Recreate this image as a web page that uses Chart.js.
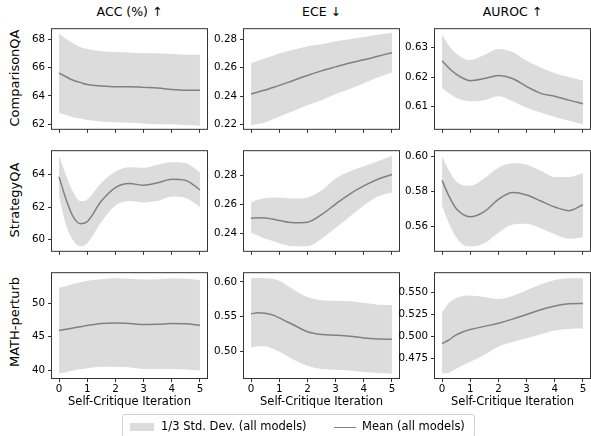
<!DOCTYPE html>
<html>
<head>
<meta charset="utf-8">
<script src="https://cdn.jsdelivr.net/npm/chart.js@4.4.0/dist/chart.umd.min.js"></script>
<style>
    body { margin: 0; background: #fff; font-family: "DejaVu Sans", sans-serif; color: #000; }
    #fig { position: relative; width: 591px; height: 436px; overflow: hidden; }
    canvas { position: absolute; }
    .col-title { position: absolute; top: 4px; font-size: 12.5px; transform: translateX(-50%); white-space: nowrap; }
    .row-label { position: absolute; left: 14px; font-size: 13px; white-space: nowrap; transform: translate(-50%, -50%) rotate(-90deg); }
    #legend { position: absolute; left: 122px; top: 414px; width: 353px; height: 24px; border: 1px solid #d0d0d0; border-radius: 3px; box-sizing: border-box; font-size: 11.5px; }
    #legend .patch { position: absolute; left: 7px; top: 8px; width: 24px; height: 8px; background: rgb(220,220,220); }
    #legend .line { position: absolute; left: 211px; top: 11.5px; width: 22px; height: 1.5px; background: rgb(128,128,128); }
    #legend .txt { position: absolute; top: 4px; white-space: nowrap; }
</style>
</head>
<body>
<div id="fig">
    <div class="col-title" style="left:129.5px">ACC (%) ↑</div>
    <div class="col-title" style="left:321.5px">ECE ↓</div>
    <div class="col-title" style="left:512.5px">AUROC ↑</div>
    <div class="row-label" style="top:78px">ComparisonQA</div>
    <div class="row-label" style="top:200px">StrategyQA</div>
    <div class="row-label" style="top:322px">MATH-perturb</div>

    <canvas id="p00"></canvas><canvas id="p01"></canvas><canvas id="p02"></canvas>
    <canvas id="p10"></canvas><canvas id="p11"></canvas><canvas id="p12"></canvas>
    <canvas id="p20"></canvas><canvas id="p21"></canvas><canvas id="p22"></canvas>

    <div id="legend">
        <div class="patch"></div><div class="txt" style="left:38px">1/3 Std. Dev. (all models)</div>
        <div class="line"></div><div class="txt" style="left:239px">Mean (all models)</div>
    </div>
</div>

<script>
// x positions (self-critique iteration) where values were read
var iterations = [0, 0.25, 0.5, 0.75, 1, 1.5, 2, 2.5, 3, 3.5, 4, 4.5, 5];
var xTicks = [0, 1, 2, 3, 4, 5];

// ComparisonQA
var cmpAccMean = [65.6, 65.35, 65.1, 64.95, 64.8, 64.7, 64.65, 64.65, 64.6, 64.55, 64.45, 64.4, 64.4];
var cmpAccHigh = [68.4, 68.0, 67.7, 67.45, 67.3, 67.15, 67.1, 67.05, 67.0, 67.0, 66.95, 66.9, 66.9];
var cmpAccLow  = [62.8, 62.65, 62.5, 62.4, 62.3, 62.2, 62.15, 62.1, 62.05, 62.0, 62.0, 61.95, 61.9];
var cmpAccTicks = ['62', '64', '66', '68'];

var cmpEceMean = [0.2415, 0.2429, 0.2443, 0.2459, 0.2475, 0.251, 0.2545, 0.2577, 0.2605, 0.2632, 0.2655, 0.268, 0.2705];
var cmpEceHigh = [0.263, 0.2648, 0.2665, 0.2682, 0.27, 0.2725, 0.275, 0.2765, 0.2785, 0.28, 0.2815, 0.283, 0.2845];
var cmpEceLow  = [0.2195, 0.2205, 0.2215, 0.2235, 0.2255, 0.2295, 0.2335, 0.237, 0.2415, 0.245, 0.249, 0.253, 0.2565];
var cmpEceTicks = ['0.22', '0.24', '0.26', '0.28'];

var cmpAurocMean = [0.6255, 0.623, 0.621, 0.6196, 0.6188, 0.6195, 0.6205, 0.6195, 0.6168, 0.6145, 0.6135, 0.6122, 0.611];
var cmpAurocHigh = [0.6345, 0.6305, 0.628, 0.6264, 0.6258, 0.6275, 0.6295, 0.6285, 0.6255, 0.6232, 0.6213, 0.62, 0.6188];
var cmpAurocLow  = [0.6162, 0.6145, 0.613, 0.6122, 0.6118, 0.6122, 0.6135, 0.6118, 0.6096, 0.608, 0.6065, 0.6052, 0.604];
var cmpAurocTicks = ['0.61', '0.62', '0.63'];

// StrategyQA
var stratAccMean = [63.87, 62.47, 61.4, 60.97, 61.1, 62.37, 63.21, 63.46, 63.35, 63.5, 63.72, 63.65, 63.07];
var stratAccHigh = [65.18, 63.96, 62.93, 62.37, 62.47, 63.5, 64.2, 64.47, 64.43, 64.62, 64.77, 64.71, 64.15];
var stratAccLow  = [62.65, 60.88, 59.94, 59.57, 59.76, 61.07, 62.09, 62.37, 62.28, 62.37, 62.65, 62.56, 62.0];
var stratAccTicks = ['60', '62', '64'];

var stratEceMean = [0.2506, 0.251, 0.2508, 0.25, 0.249, 0.2475, 0.2479, 0.2531, 0.2604, 0.2673, 0.2729, 0.2775, 0.2808];
var stratEceHigh = [0.2615, 0.2635, 0.2646, 0.265, 0.265, 0.2642, 0.265, 0.2698, 0.2781, 0.2829, 0.2865, 0.29, 0.2938];
var stratEceLow  = [0.2406, 0.2385, 0.2365, 0.235, 0.2333, 0.2313, 0.2313, 0.2365, 0.2438, 0.2517, 0.2594, 0.2656, 0.2683];
var stratEceTicks = ['0.24', '0.26', '0.28'];

var stratAurocMean = [0.5863, 0.5772, 0.5703, 0.5669, 0.5657, 0.5686, 0.5755, 0.5794, 0.578, 0.5746, 0.5712, 0.5691, 0.5725];
var stratAurocHigh = [0.6, 0.5918, 0.5858, 0.5835, 0.5832, 0.5875, 0.5935, 0.596, 0.5952, 0.5918, 0.5883, 0.5883, 0.5904];
var stratAurocLow  = [0.572, 0.5617, 0.554, 0.5497, 0.5488, 0.5506, 0.5566, 0.5612, 0.5617, 0.5591, 0.5557, 0.5531, 0.554];
var stratAurocTicks = ['0.56', '0.58', '0.60'];

// MATH-perturb
var mathAccMean = [45.93, 46.12, 46.31, 46.5, 46.68, 46.96, 47.06, 46.96, 46.82, 46.87, 46.96, 46.92, 46.68];
var mathAccHigh = [52.29, 52.55, 52.85, 53.1, 53.32, 53.55, 53.69, 53.6, 53.5, 53.55, 53.64, 53.6, 53.41];
var mathAccLow  = [39.53, 39.75, 40.0, 40.17, 40.33, 40.56, 40.56, 40.47, 40.23, 40.23, 40.23, 40.14, 40.0];
var mathAccTicks = ['40', '45', '50'];

var mathEceMean = [0.5541, 0.5555, 0.555, 0.5527, 0.5482, 0.5382, 0.5282, 0.5241, 0.5232, 0.5218, 0.5191, 0.5177, 0.5173];
var mathEceHigh = [0.6055, 0.6059, 0.6055, 0.6045, 0.6018, 0.5891, 0.5782, 0.5736, 0.5727, 0.5723, 0.57, 0.5673, 0.5668];
var mathEceLow  = [0.5055, 0.5073, 0.5073, 0.5041, 0.4995, 0.4882, 0.4791, 0.4745, 0.4732, 0.4723, 0.47, 0.4686, 0.4677];
var mathEceTicks = ['0.50', '0.55', '0.60'];

var mathAurocMean = [0.4919, 0.4962, 0.5019, 0.5055, 0.508, 0.5116, 0.5152, 0.5199, 0.5252, 0.5306, 0.5349, 0.5374, 0.5378];
var mathAurocHigh = [0.5278, 0.5385, 0.5439, 0.5464, 0.5468, 0.545, 0.5428, 0.5464, 0.5529, 0.5593, 0.5644, 0.5665, 0.5665];
var mathAurocLow  = [0.4578, 0.4589, 0.4632, 0.4675, 0.4711, 0.4793, 0.4883, 0.4937, 0.498, 0.5026, 0.5069, 0.5087, 0.5091];
var mathAurocTicks = ['0.475', '0.500', '0.525', '0.550'];


// layout of the grid (pixels)
var plotLeft = [52, 244, 435];
var plotTop = [23, 145, 267];
var plotW = 155;
var plotH = [110, 110, 111];
var yAxisW = 44;
var pad = 3;

var bandColor = 'rgb(220,220,220)';
var lineColor = 'rgb(128,128,128)';
var spineColor = '#333';
var fontFamily = 'DejaVu Sans';

// draws the box around each plot like matplotlib spines
var framePlugin = {
    id: 'frame',
    afterDraw: function(chart) {
        var a = chart.chartArea;
        var ctx = chart.ctx;
        ctx.save();
        ctx.strokeStyle = spineColor;
        ctx.lineWidth = 1;
        ctx.strokeRect(a.left - 0.5, a.top - 0.5, a.right - a.left + 1, a.bottom - a.top + 1);
        ctx.restore();
    }
};

function toPoints(values) {
    return iterations.map(function(x, i) { return { x: x, y: values[i] }; });
}

function makePanel(row, col, mean, low, high, tickLabels, yMin, yMax) {
    var bottomRow = (row === 2);
    var xAxisH = bottomRow ? 40 : 5;
    var canvas = document.getElementById('p' + row + col);
    canvas.width = yAxisW + plotW + pad;
    canvas.height = pad + plotH[row] + xAxisH;
    canvas.style.left = (plotLeft[col] - yAxisW) + 'px';
    canvas.style.top = (plotTop[row] - pad) + 'px';

    var tickValues = tickLabels.map(parseFloat);

    new Chart(canvas.getContext('2d'), {
        type: 'line',
        data: {
            datasets: [{
                label: 'Mean (all models)',
                data: toPoints(mean),
                borderColor: lineColor,
                borderWidth: 1.5,
                pointRadius: 0,
                fill: false,
                cubicInterpolationMode: 'monotone'
            }, {
                label: '1/3 Std. Dev. (all models)',
                data: toPoints(high),
                borderWidth: 0,
                pointRadius: 0,
                backgroundColor: bandColor,
                fill: '+1',
                cubicInterpolationMode: 'monotone'
            }, {
                label: 'low',
                data: toPoints(low),
                borderWidth: 0,
                pointRadius: 0,
                fill: false,
                cubicInterpolationMode: 'monotone'
            }]
        },
        options: {
            responsive: false,
            animation: false,
            layout: { padding: { top: pad, right: pad, left: 0, bottom: 0 } },
            plugins: {
                legend: { display: false },
                tooltip: { enabled: false }
            },
            scales: {
                x: {
                    type: 'linear',
                    min: -0.25,
                    max: 5.25,
                    afterBuildTicks: function(scale) {
                        scale.ticks = xTicks.map(function(v) { return { value: v }; });
                    },
                    afterFit: function(scale) { scale.height = xAxisH; },
                    grid: { drawOnChartArea: false, drawTicks: true, tickLength: 4, color: spineColor },
                    border: { display: false },
                    ticks: {
                        display: bottomRow,
                        padding: 1,
                        color: '#000',
                        maxRotation: 0,
                        font: { family: fontFamily, size: 10.3 },
                        callback: function(v) { return String(v); }
                    },
                    title: {
                        display: bottomRow,
                        text: 'Self-Critique Iteration',
                        color: '#000',
                        padding: { top: 0, bottom: 9 },
                        font: { family: fontFamily, size: 11.5 }
                    }
                },
                y: {
                    type: 'linear',
                    min: yMin,
                    max: yMax,
                    afterBuildTicks: function(scale) {
                        scale.ticks = tickValues.map(function(v) { return { value: v }; });
                    },
                    afterFit: function(scale) { scale.width = yAxisW; },
                    grid: { drawOnChartArea: false, drawTicks: true, tickLength: 4, color: spineColor },
                    border: { display: false },
                    ticks: {
                        padding: 3,
                        color: '#000',
                        font: { family: fontFamily, size: 10.3 },
                        callback: function(v) {
                            var i = tickValues.indexOf(v);
                            return i >= 0 ? tickLabels[i] : '';
                        }
                    }
                }
            }
        },
        plugins: [framePlugin]
    });
}

    //row 1 - ComparisonQA
makePanel(0, 0, cmpAccMean, cmpAccLow, cmpAccHigh, cmpAccTicks, 61.68, 68.7);
makePanel(0, 1, cmpEceMean, cmpEceLow, cmpEceHigh, cmpEceTicks, 0.217, 0.287);
makePanel(0, 2, cmpAurocMean, cmpAurocLow, cmpAurocHigh, cmpAurocTicks, 0.6025, 0.6362);

    //row 2 - StrategyQA
makePanel(1, 0, stratAccMean, stratAccLow, stratAccHigh, stratAccTicks, 59.29, 65.46);
makePanel(1, 1, stratEceMean, stratEceLow, stratEceHigh, stratEceTicks, 0.2281, 0.2969);
makePanel(1, 2, stratAurocMean, stratAurocLow, stratAurocHigh, stratAurocTicks, 0.5463, 0.6029);

    //row 3 - MATH-perturb
makePanel(2, 0, mathAccMean, mathAccLow, mathAccHigh, mathAccTicks, 38.88, 54.44);
makePanel(2, 1, mathEceMean, mathEceLow, mathEceHigh, mathEceTicks, 0.4614, 0.6127);
makePanel(2, 2, mathAurocMean, mathAurocLow, mathAurocHigh, mathAurocTicks, 0.4527, 0.5723);
</script>
</body>
</html>
